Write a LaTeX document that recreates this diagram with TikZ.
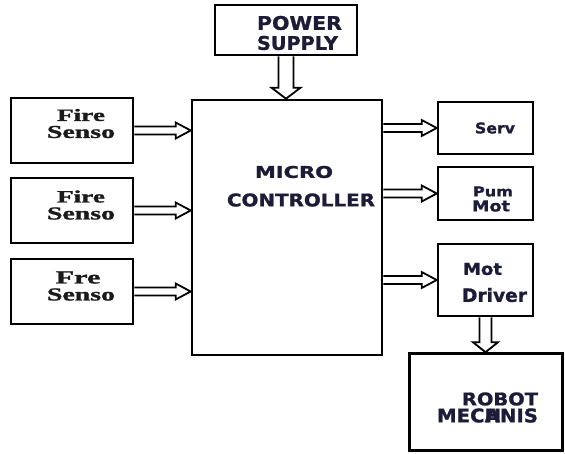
\documentclass[tikz,border=0pt]{standalone}
\usepackage{fontspec}
\setmainfont{Liberation Serif}[BoldFeatures={FakeBold=1.2}]
\setsansfont{DejaVu Sans}[BoldFeatures={FakeBold=1.2}]
\usetikzlibrary{calc,backgrounds}
\definecolor{ink}{HTML}{1C1C38}
\definecolor{inkser}{HTML}{1A1A1A}
\newcommand\fitser[3]{\resizebox{#1pt}{#2pt}{\rmfamily\bfseries #3}}
\newcommand\fitsan[3]{\resizebox{#1pt}{#2pt}{\sffamily\bfseries #3}}
\newcommand\blockarr[5]{%
  \begin{pgfonlayer}{background}
  \path (#1) coordinate (bs) (#2) coordinate (bt);
  \path ($(bt)!#5!(bs)$) coordinate (bh);
  \draw[arrline] ($(bs)!#3!90:(bt)$) -- ($(bh)!#3!90:(bt)$) -- ($(bh)!#4!90:(bt)$) -- (bt)
     -- ($(bh)!#4!-90:(bt)$) -- ($(bh)!#3!-90:(bt)$) -- ($(bs)!#3!-90:(bt)$);
  \end{pgfonlayer}%
}
\begin{document}
\begin{tikzpicture}[x=1pt,y=-1pt,
  box/.style={draw=black, line width=2.6pt, rectangle, inner sep=0pt},
  txt/.style={inner sep=0pt, text=ink},
  txs/.style={inner sep=0pt, text=inkser},
  arrline/.style={draw=black, line width=1.8pt, fill=white, line join=miter}]
\useasboundingbox (0,0) rectangle (565,453);
% boxes
\node[box, minimum width=142pt, minimum height=50pt] (ps) at (286,30) {};
\node[box, minimum width=190pt, minimum height=255pt] (mc) at (287,227.5) {};
\node[box, minimum width=122pt, minimum height=65pt] (s1) at (72,130.5) {};
\node[box, minimum width=122pt, minimum height=65pt] (s2) at (72,210.5) {};
\node[box, minimum width=122pt, minimum height=65pt] (s3) at (72,291.5) {};
\node[box, minimum width=95pt, minimum height=52pt] (sv) at (485.5,128) {};
\node[box, minimum width=95pt, minimum height=53pt] (pm) at (485.5,193.5) {};
\node[box, minimum width=95pt, minimum height=72pt] (md) at (485.5,280) {};
\node[box, minimum width=153pt, minimum height=97pt] (rb) at (486,402) {};
% texts
\node[txt] (tp1) at (299.5,23) {\fitsan{85}{14}{POWER}};
\node[txt] (tp2) at (297.5,43) {\fitsan{81}{14}{SUPPLY}};
\node[txt] (tm1) at (294,172) {\fitsan{78}{12}{MICRO}};
\node[txt] (tm2) at (301,200) {\fitsan{148}{13}{CONTROLLER}};
\node[txs] (ta1) at (81,115) {\fitser{48}{12}{Fire}};
\node[txs] (ta2) at (81,132) {\fitser{68}{12}{Senso}};
\node[txs] (tb1) at (81,196.5) {\fitser{48}{12}{Fire}};
\node[txs] (tb2) at (81,213.5) {\fitser{68}{12}{Senso}};
\node[txs] (tc1) at (78,277.5) {\fitser{45}{12}{Fre}};
\node[txs] (tc2) at (81,294.5) {\fitser{68}{12}{Senso}};
\node[txt] (tsv) at (495,128) {\fitsan{40}{11}{Serv}};
\node[txt] (tpm1) at (493,191.5) {\fitsan{40}{10}{Pum}};
\node[txt] (tpm2) at (491,206) {\fitsan{38}{11}{Mot}};
\node[txt] (tmd1) at (482.5,269) {\fitsan{39}{12}{Mot}};
\node[txt] (tmd2) at (494.5,295) {\fitsan{65}{14}{Driver}};
\node[txt] (trb1) at (500,399) {\fitsan{76}{13}{ROBOT}};
\node[txt] (trb2) at (487.5,415.5) {\fitsan{101}{14}{MEC\makebox[0pt][l]{H}ANIS}};
% arrows
\blockarr{ps.south}{ps.south |- mc.north}{7.5pt}{14.5pt}{11pt}
\blockarr{s1.east}{mc.west |- s1.east}{4pt}{8pt}{15pt}
\blockarr{s2.east}{mc.west |- s2.east}{4pt}{8pt}{15pt}
\blockarr{s3.east}{mc.west |- s3.east}{4pt}{8pt}{15pt}
\blockarr{mc.east |- sv.west}{sv.west}{4pt}{8pt}{15pt}
\blockarr{mc.east |- pm.west}{pm.west}{4pt}{8pt}{15pt}
\blockarr{mc.east |- md.west}{md.west}{4pt}{8pt}{15pt}
\blockarr{md.south}{md.south |- rb.north}{6pt}{12.5pt}{10pt}
\end{tikzpicture}
\end{document}
